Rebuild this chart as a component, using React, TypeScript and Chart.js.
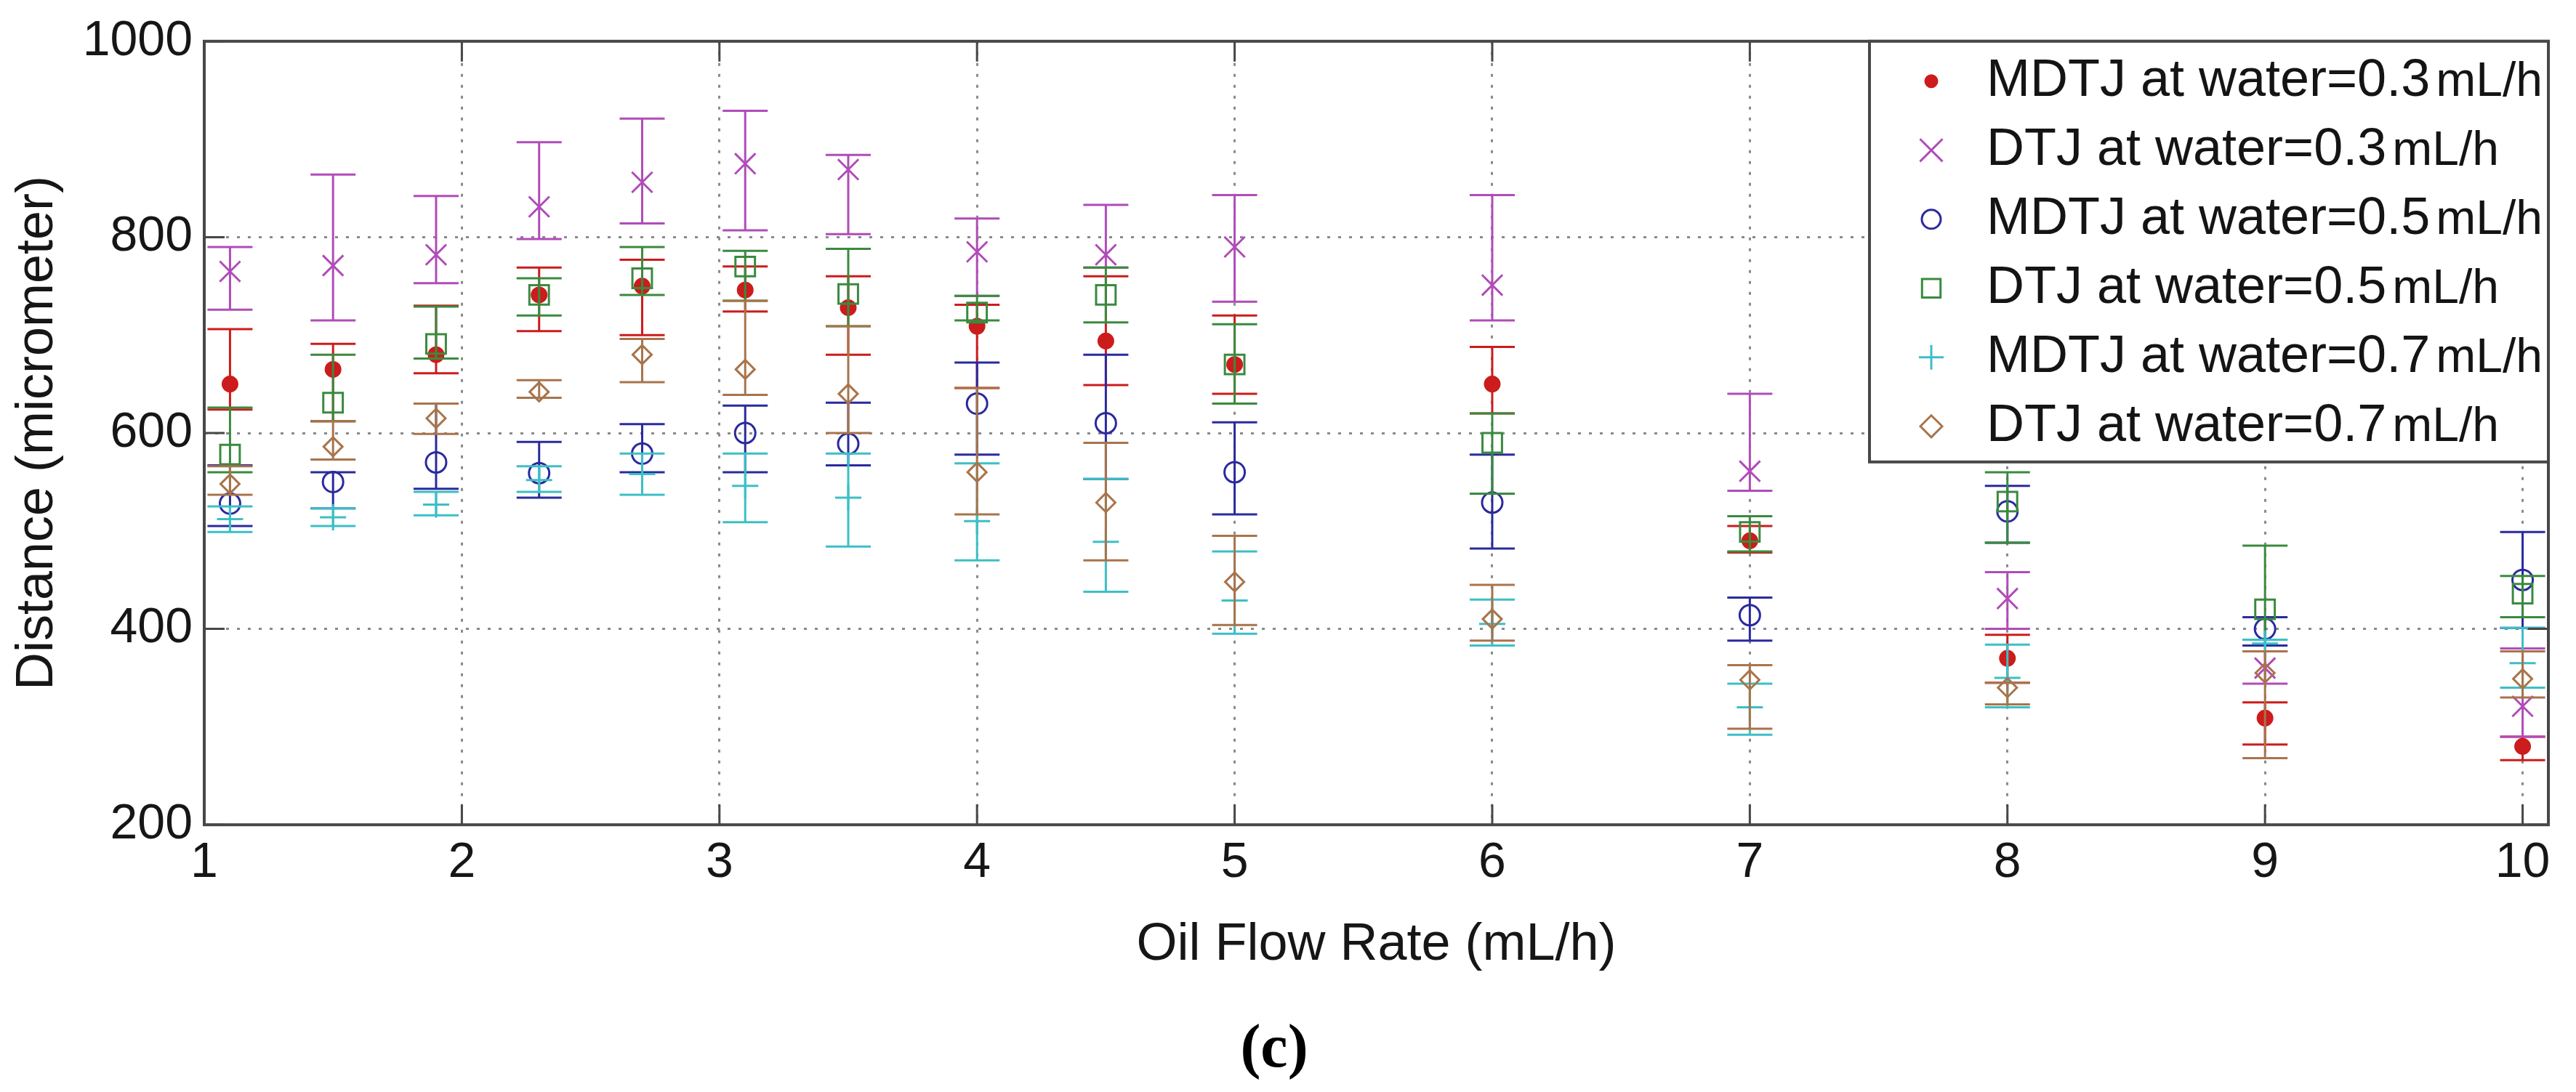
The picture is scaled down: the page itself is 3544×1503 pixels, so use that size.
import React, { useEffect, useRef } from 'react';
import { Chart, registerables } from 'chart.js';
import { drawPoint } from 'chart.js/helpers';

Chart.register(...registerables);

const oilFlow = [1.1, 1.5, 1.9, 2.3, 2.7, 3.1, 3.5, 4, 4.5, 5, 6, 7, 8, 9, 10];
const xTicks = [1, 2, 3, 4, 5, 6, 7, 8, 9, 10];
const yTicks = [200, 400, 600, 800, 1000];

// MDTJ, water 0.3 mL/h
const mdtj03Mean = [650, 665, 680, 741, 750, 746, 728, 709, 694, 670, 650, 490, 370, 309, 280];
const mdtj03Low = [624, 612, 661, 704, 700, 724, 680, 646, 649, 640, 620, 478, 345, 282, 266];
const mdtj03High = [706, 691, 730, 769, 777, 770, 760, 731, 760, 720, 688, 505, 394, 325, 290];

// DTJ, water 0.3 mL/h
const dtj03Mean = [765, 771, 782, 831, 856, 875, 869, 785, 782, 790, 751, 561, 431, 360, 321];
const dtj03Low = [726, 715, 753, 798, 814, 807, 803, 740, 769, 734, 715, 541, 400, 344, 290];
const dtj03High = [790, 864, 842, 897, 921, 929, 884, 819, 833, 843, 843, 640, 458, 377, 380];

// MDTJ, water 0.5 mL/h
const mdtj05Mean = [528, 550, 570, 559, 579, 600, 589, 630, 610, 560, 529, 414, 520, 400, 450];
const mdtj05Low = [505, 523, 543, 534, 560, 560, 567, 578, 553, 517, 482, 388, 488, 383, 401];
const mdtj05High = [567, 560, 630, 591, 609, 628, 631, 672, 680, 611, 578, 432, 546, 412, 499];

// DTJ, water 0.5 mL/h
const dtj05Mean = [578, 631, 691, 741, 758, 770, 742, 723, 741, 670, 590, 499, 530, 420, 436];
const dtj05Low = [560, 612, 676, 720, 741, 735, 709, 715, 713, 630, 538, 479, 488, 389, 412];
const dtj05High = [626, 680, 729, 758, 790, 786, 788, 740, 769, 711, 620, 515, 560, 485, 454];

// MDTJ, water 0.7 mL/h
const mdtj07Mean = [512, 514, 527, 552, 558, 546, 534, 510, 489, 429, 405, 320, 350, 385, 365];
const mdtj07Low = [499, 505, 516, 540, 537, 509, 484, 470, 438, 395, 383, 292, 320, 377, 340];
const mdtj07High = [525, 523, 540, 566, 579, 579, 579, 569, 553, 479, 430, 344, 384, 389, 401];

// DTJ, water 0.7 mL/h
const dtj07Mean = [548, 586, 615, 642, 680, 665, 640, 560, 529, 448, 410, 348, 340, 355, 349];
const dtj07Low = [537, 573, 599, 636, 652, 639, 600, 517, 470, 404, 388, 298, 323, 268, 330];
const dtj07High = [566, 612, 630, 654, 696, 735, 709, 646, 590, 495, 445, 363, 345, 377, 377];

const seriesLabels = [
  'MDTJ at water=0.3mL/h',
  'DTJ at water=0.3mL/h',
  'MDTJ at water=0.5mL/h',
  'DTJ at water=0.5mL/h',
  'MDTJ at water=0.7mL/h',
  'DTJ at water=0.7mL/h',
];

const series = [
  { mean: mdtj03Mean, low: mdtj03Low, high: mdtj03High, color: '#cc1c1c', style: 'circle', radius: 10, legendRadius: 8, filled: true },
  { mean: dtj03Mean, low: dtj03Low, high: dtj03High, color: '#b04cb8', style: 'crossRot', radius: 20, legendRadius: 22, filled: false },
  { mean: mdtj05Mean, low: mdtj05Low, high: mdtj05High, color: '#2a2a9e', style: 'circle', radius: 14, legendRadius: 13, filled: false },
  { mean: dtj05Mean, low: dtj05Low, high: dtj05High, color: '#3a8a3e', style: 'rect', radius: 19, legendRadius: 18, filled: false },
  { mean: mdtj07Mean, low: mdtj07Low, high: mdtj07High, color: '#3cbfc6', style: 'cross', radius: 18, legendRadius: 17, filled: false },
  { mean: dtj07Mean, low: dtj07Low, high: dtj07High, color: '#a8744c', style: 'rectRot', radius: 13, legendRadius: 15, filled: false },
];

const CAP = 31;

// vertical bar + caps for each point, drawn under that series' markers
const errorBarPlugin = {
  id: 'errorBars',
  beforeDatasetDraw(chart: any, args: any) {
    const s = series[args.index];
    const { ctx } = chart;
    const x = chart.scales.x;
    const y = chart.scales.y;
    ctx.save();
    ctx.strokeStyle = s.color;
    ctx.lineWidth = 3;
    ctx.beginPath();
    oilFlow.forEach((v, i) => {
      const px = x.getPixelForValue(v);
      const top = y.getPixelForValue(s.high[i]);
      const bot = y.getPixelForValue(s.low[i]);
      ctx.moveTo(px, top);
      ctx.lineTo(px, bot);
      ctx.moveTo(px - CAP, top);
      ctx.lineTo(px + CAP, top);
      ctx.moveTo(px - CAP, bot);
      ctx.lineTo(px + CAP, bot);
    });
    ctx.stroke();
    ctx.restore();
  },
};

// matlab style box with inward ticks
const framePlugin = {
  id: 'frame',
  afterDatasetsDraw(chart: any) {
    const { ctx, chartArea: a } = chart;
    const x = chart.scales.x;
    const y = chart.scales.y;
    const tl = 28;
    ctx.save();
    ctx.strokeStyle = '#474747';
    ctx.lineWidth = 4;
    ctx.strokeRect(a.left, a.top, a.right - a.left, a.bottom - a.top);
    ctx.lineWidth = 3;
    ctx.beginPath();
    xTicks.forEach((v) => {
      const px = x.getPixelForValue(v);
      ctx.moveTo(px, a.bottom);
      ctx.lineTo(px, a.bottom - tl);
      ctx.moveTo(px, a.top);
      ctx.lineTo(px, a.top + tl);
    });
    yTicks.forEach((v) => {
      const py = y.getPixelForValue(v);
      ctx.moveTo(a.left, py);
      ctx.lineTo(a.left + tl, py);
      ctx.moveTo(a.right, py);
      ctx.lineTo(a.right - tl, py);
    });
    ctx.stroke();
    ctx.restore();
  },
};

const legendPlugin = {
  id: 'boxLegend',
  afterDraw(chart: any) {
    const { ctx, chartArea: a } = chart;
    const left = a.right - 934;
    const top = a.top;
    const rowH = 95;
    const boxH = 579;
    ctx.save();
    ctx.fillStyle = '#ffffff';
    ctx.fillRect(left, top, a.right - left, boxH);
    ctx.strokeStyle = '#474747';
    ctx.lineWidth = 4;
    ctx.strokeRect(left, top, a.right - left, boxH);
    series.forEach((s, i) => {
      const cy = top + 55 + i * rowH;
      ctx.strokeStyle = s.color;
      ctx.fillStyle = s.filled ? s.color : 'rgba(0,0,0,0)';
      ctx.lineWidth = 3;
      drawPoint(ctx, { pointStyle: s.style, radius: s.legendRadius, rotation: 0, borderWidth: 3 } as any, left + 85, cy);
      const main = seriesLabels[i].replace('mL/h', '');
      ctx.fillStyle = '#141414';
      ctx.textAlign = 'left';
      ctx.textBaseline = 'middle';
      ctx.font = '72px "Liberation Sans", Arial, sans-serif';
      ctx.fillText(main, left + 161, cy);
      const w = ctx.measureText(main).width;
      ctx.font = '66px "Liberation Sans", Arial, sans-serif';
      ctx.fillText('mL/h', left + 161 + w + 8, cy + 2);
    });
    ctx.restore();
  },
};

const App: React.FC = () => {
  const canvasRef = useRef<HTMLCanvasElement>(null);
  const chartRef = useRef<Chart | null>(null);

  useEffect(() => {
    if (!canvasRef.current) return;
    if (chartRef.current) chartRef.current.destroy();

    Chart.defaults.font.family = '"Liberation Sans", Arial, sans-serif';
    Chart.defaults.color = '#161616';

    chartRef.current = new Chart(canvasRef.current, {
      type: 'scatter',
      data: {
        datasets: series.map((s, i) => ({
          label: seriesLabels[i],
          data: oilFlow.map((x, j) => ({ x, y: s.mean[j] })),
          pointStyle: s.style as any,
          pointRadius: s.radius,
          pointBorderWidth: 3,
          borderColor: s.color,
          backgroundColor: s.filled ? s.color : 'rgba(0,0,0,0)',
          showLine: false,
          order: series.length - i,
        })),
      },
      options: {
        responsive: false,
        devicePixelRatio: 1,
        animation: false,
        events: [],
        layout: { padding: { left: 0, right: 38, top: 56, bottom: 0 } },
        plugins: {
          legend: { display: false },
          tooltip: { enabled: false },
          title: {
            display: true,
            position: 'bottom',
            text: '(c)',
            color: '#000',
            font: { family: '"Liberation Serif", "Times New Roman", serif', size: 84, weight: 'bold', lineHeight: 1.2 },
            padding: { top: 0, bottom: 6 },
          },
        },
        scales: {
          x: {
            type: 'linear',
            min: 1,
            max: 10.1,
            afterBuildTicks: (scale: any) => {
              scale.ticks = xTicks.map((v) => ({ value: v }));
            },
            afterFit: (scale: any) => {
              scale.height = 261;
            },
            ticks: { font: { size: 68 }, padding: 12, maxRotation: 0, callback: (v: any) => String(v) },
            grid: { color: '#8a8a8a', lineWidth: 3, drawTicks: false },
            border: { display: false, dash: [4, 11] },
            title: {
              display: true,
              text: 'Oil Flow Rate (mL/h)',
              font: { size: 72 },
              padding: { top: 0, bottom: 52 },
            },
          },
          y: {
            type: 'linear',
            min: 200,
            max: 1000,
            afterBuildTicks: (scale: any) => {
              scale.ticks = yTicks.map((v) => ({ value: v }));
            },
            afterFit: (scale: any) => {
              scale.width = 281;
            },
            ticks: { font: { size: 68 }, padding: 16, callback: (v: any) => String(v) },
            grid: { color: '#8a8a8a', lineWidth: 3, drawTicks: false },
            border: { display: false, dash: [4, 11] },
            title: {
              display: true,
              text: 'Distance (micrometer)',
              font: { size: 72 },
              padding: { top: 9, bottom: 0 },
            },
          },
        },
      },
      plugins: [errorBarPlugin, framePlugin, legendPlugin],
    });

    return () => {
      if (chartRef.current) {
        chartRef.current.destroy();
        chartRef.current = null;
      }
    };
  }, []);

  return (
    <div style={{ position: 'absolute', left: 0, top: 0, width: 3544, height: 1503, background: '#fff', overflow: 'hidden' }}>
      <canvas ref={canvasRef} width={3544} height={1503} style={{ display: 'block' }} />
    </div>
  );
};

export default App;
